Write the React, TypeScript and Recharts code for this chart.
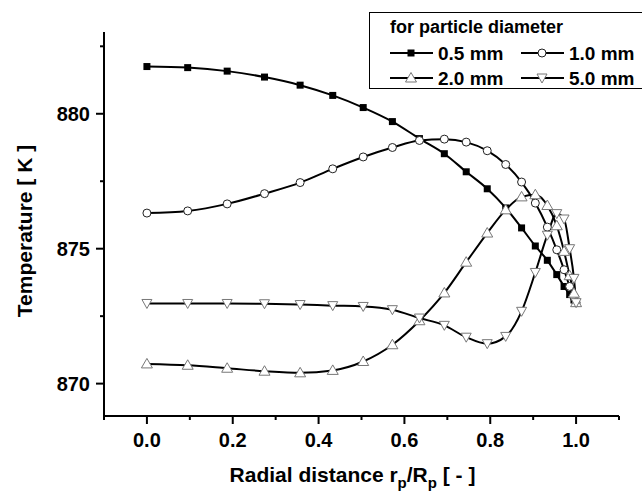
import React from "react";
import { LineChart, Line, XAxis, YAxis, Legend } from "recharts";

// radial positions of the computed nodes (same for every diameter)
const radialPos = [0, 0.095, 0.187, 0.274, 0.357, 0.433, 0.504, 0.572, 0.635, 0.693, 0.744, 0.793, 0.836, 0.873, 0.905, 0.933, 0.955, 0.972, 0.985, 0.995, 1.0];

const temp05 = [881.75, 881.71, 881.58, 881.36, 881.06, 880.68, 880.23, 879.71, 879.08, 878.52, 877.85, 877.22, 876.51, 875.77, 875.1, 874.57, 874.04, 873.6, 873.3, 873.1, 873.0];
const temp10 = [876.32, 876.4, 876.66, 877.04, 877.45, 877.96, 878.4, 878.75, 879.01, 879.06, 878.95, 878.63, 878.12, 877.47, 876.69, 875.8, 874.96, 874.22, 873.6, 873.2, 873.0];
const temp20 = [870.73, 870.68, 870.57, 870.46, 870.4, 870.49, 870.82, 871.44, 872.33, 873.36, 874.5, 875.58, 876.44, 876.92, 877.0, 876.6, 875.85, 874.9, 874.0, 873.35, 873.0];
const temp50 = [872.97, 872.97, 872.97, 872.96, 872.93, 872.89, 872.86, 872.74, 872.43, 872.16, 871.72, 871.48, 871.75, 872.68, 874.12, 875.5, 876.3, 876.1, 875.0, 873.9, 873.0];

const xTicks = [-0.1, 0, 0.1, 0.2, 0.3, 0.4, 0.5, 0.6, 0.7, 0.8, 0.9, 1.0, 1.1];
const yTicks = [870, 872.5, 875, 877.5, 880, 882.5];

const legendLabels = ["0.5 mm", "1.0 mm", "2.0 mm", "5.0 mm"];

const data = radialPos.map((x, i) => ({
  x,
  d05: temp05[i],
  d10: temp10[i],
  d20: temp20[i],
  d50: temp50[i],
}));

const FONT = "'Liberation Sans', Arial, sans-serif";

const Square = ({ cx, cy }: any) => <rect x={cx - 3.5} y={cy - 3.5} width={7} height={7} fill="#000" />;
const Circ = ({ cx, cy }: any) => <circle cx={cx} cy={cy} r={4} fill="#fff" stroke="#222" strokeWidth={1} />;
const TriUp = ({ cx, cy }: any) => (
  <polygon points={`${cx},${cy - 5.5} ${cx - 5.5},${cy + 4} ${cx + 5.5},${cy + 4}`} fill="#fff" stroke="#777" strokeWidth={1} />
);
const TriDown = ({ cx, cy }: any) => (
  <polygon points={`${cx - 5},${cy - 4} ${cx + 5},${cy - 4} ${cx},${cy + 5}`} fill="#fff" stroke="#777" strokeWidth={1} />
);

const mkDot = (Shape: any) => (p: any) => <Shape key={p.index} cx={p.cx} cy={p.cy} />;

const YTick = ({ x, y, payload }: any) => {
  const major = Number.isInteger(payload.value / 5);
  return (
    <g>
      <line x1={x} x2={x - (major ? 8 : 4)} y1={y} y2={y} stroke="#000" strokeWidth={2} />
      {major && (
        <text x={x - 14} y={y + 7} textAnchor="end" fontFamily={FONT} fontWeight="bold" fontSize={20} fill="#000">
          {payload.value}
        </text>
      )}
    </g>
  );
};

const XTick = ({ x, y, payload }: any) => {
  const v = payload.value;
  const k = Math.round(v * 10);
  const major = k % 2 === 0 && k >= 0 && k <= 10;
  return (
    <g>
      <line x1={x} x2={x} y1={y} y2={y + (major ? 8 : 4)} stroke="#000" strokeWidth={2} />
      {major && (
        <text x={x} y={y + 31} textAnchor="middle" fontFamily={FONT} fontWeight="bold" fontSize={20} fill="#000">
          {v.toFixed(1)}
        </text>
      )}
    </g>
  );
};

const XTitle = ({ viewBox }: any) => (
  <text x={viewBox.x + viewBox.width / 2 - 9} y={viewBox.y + 66} textAnchor="middle" fontFamily={FONT} fontWeight="bold" fontSize={21} fill="#000">
    <tspan>Radial distance r</tspan>
    <tspan dy={6} fontSize={15}>p</tspan>
    <tspan dy={-6}>/R</tspan>
    <tspan dy={6} fontSize={15}>p</tspan>
    <tspan dy={-6}> [ - ]</tspan>
  </text>
);

const YTitle = ({ viewBox }: any) => {
  const cx = 32;
  const cy = viewBox.y + viewBox.height / 2 + 7;
  return (
    <text x={cx} y={cy} transform={`rotate(-90 ${cx} ${cy})`} textAnchor="middle" fontFamily={FONT} fontWeight="bold" fontSize={21} fill="#000">
      Temperature [ K ]
    </text>
  );
};

const legendShapes = [Square, Circ, TriUp, TriDown];

const LegendBox = () => (
  <div style={{ width: 280, height: 77, border: "1.5px solid #000", boxSizing: "border-box", background: "#fff" }}>
    <svg width={280} height={77}>
      <text x={20} y={20} fontFamily={FONT} fontWeight="bold" fontSize={18}>for particle diameter</text>
      {legendLabels.map((lab, i) => {
        const col = i % 2;
        const row = Math.floor(i / 2);
        const lx = 20 + col * 131;
        const ly = 40 + row * 25;
        const Shape = legendShapes[i];
        return (
          <g key={lab}>
            <line x1={lx} x2={lx + 43} y1={ly} y2={ly} stroke="#000" strokeWidth={2} />
            <Shape cx={lx + 21} cy={ly} />
            <text x={lx + 48} y={ly + 7} fontFamily={FONT} fontWeight="bold" fontSize={19}>{lab}</text>
          </g>
        );
      })}
    </svg>
  </div>
);

export default function App() {
  return (
    <div style={{ position: "absolute", left: 0, top: 0, width: 642, height: 492, background: "#fff" }}>
      <LineChart width={642} height={492} data={data} margin={{ top: 32, right: 23, bottom: 0, left: 0 }}>
        <XAxis
          type="number"
          dataKey="x"
          domain={[-0.1, 1.1]}
          ticks={xTicks}
          interval={0}
          allowDataOverflow
          height={76}
          tickSize={0}
          tickMargin={0}
          tickLine={false}
          tick={<XTick />}
          axisLine={{ stroke: "#000", strokeWidth: 2 }}
          label={{ content: (p: any) => <XTitle {...p} /> }}
        />
        <YAxis
          type="number"
          domain={[868.8, 883.03]}
          ticks={yTicks}
          interval={0}
          allowDataOverflow
          width={104}
          tickSize={0}
          tickMargin={0}
          tickLine={false}
          tick={<YTick />}
          axisLine={{ stroke: "#000", strokeWidth: 2 }}
          label={{ content: (p: any) => <YTitle {...p} /> }}
        />
        <Legend
          layout="horizontal"
          verticalAlign="middle"
          align="center"
          content={() => <LegendBox />}
          wrapperStyle={{ position: "absolute", left: 369, top: 12, width: 280, height: 77 }}
        />
        <Line type="monotone" dataKey="d05" stroke="#000" strokeWidth={2} dot={mkDot(Square)} isAnimationActive={false} />
        <Line type="monotone" dataKey="d10" stroke="#000" strokeWidth={2} dot={mkDot(Circ)} isAnimationActive={false} />
        <Line type="monotone" dataKey="d20" stroke="#000" strokeWidth={2} dot={mkDot(TriUp)} isAnimationActive={false} />
        <Line type="monotone" dataKey="d50" stroke="#000" strokeWidth={2} dot={mkDot(TriDown)} isAnimationActive={false} />
      </LineChart>
    </div>
  );
}
